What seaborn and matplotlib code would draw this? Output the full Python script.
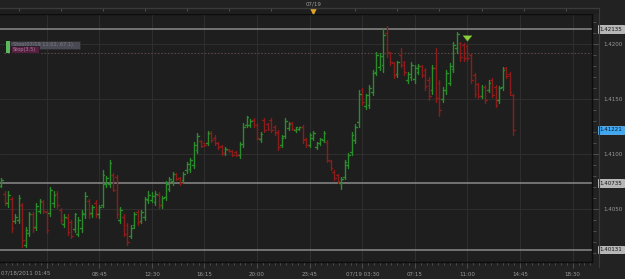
import numpy as np
import pandas as pd
import matplotlib
matplotlib.use("Agg")
import matplotlib.pyplot as plt
import matplotlib.dates as mdates
import matplotlib.transforms as mtransforms
from matplotlib.lines import Line2D
from matplotlib.patches import Rectangle
from matplotlib.ticker import FixedLocator, MultipleLocator, FormatStrFormatter
import seaborn as sns

# 15 minute EUR bars, 07/18/2011 01:45 onwards
START = "2011-07-18 01:45"

opens = [
    1.4071, 1.4064, 1.4055, 1.4059, 1.4039, 1.4040, 1.4054, 1.4017, 1.4028, 1.4045,
    1.4034, 1.4048, 1.4056, 1.4047, 1.4046, 1.4055, 1.4064, 1.4049, 1.4036, 1.4042,
    1.4038, 1.4032, 1.4027, 1.4033, 1.4045, 1.4057, 1.4046, 1.4055, 1.4045, 1.4054,
    1.4073, 1.4073, 1.4081, 1.4079, 1.4040, 1.4043, 1.4035, 1.4025, 1.4035, 1.4047,
    1.4039, 1.4043, 1.4058, 1.4058, 1.4056, 1.4063, 1.4054, 1.4061, 1.4068, 1.4075,
    1.4082, 1.4078, 1.4076, 1.4085, 1.4086, 1.4090, 1.4104, 1.4112, 1.4110, 1.4110,
    1.4119, 1.4115, 1.4110, 1.4107, 1.4101, 1.4104, 1.4103, 1.4102, 1.4099, 1.4109,
    1.4126, 1.4126, 1.4131, 1.4126, 1.4114, 1.4131, 1.4127, 1.4131, 1.4125, 1.4120,
    1.4108, 1.4116, 1.4124, 1.4128, 1.4122, 1.4123, 1.4125, 1.4114, 1.4108, 1.4115,
    1.4106, 1.4110, 1.4113, 1.4111, 1.4094, 1.4084, 1.4081, 1.4074, 1.4079, 1.4090,
    1.4102, 1.4113, 1.4129, 1.4158, 1.4144, 1.4145, 1.4156, 1.4175, 1.4179, 1.4181,
    1.4210, 1.4192, 1.4183, 1.4173, 1.4190, 1.4184, 1.4167, 1.4170, 1.4168, 1.4175,
    1.4180, 1.4176, 1.4167, 1.4158, 1.4178, 1.4165, 1.4150, 1.4158, 1.4165, 1.4177,
    1.4196, 1.4201, 1.4199, 1.4198, 1.4190, 1.4172, 1.4164, 1.4153, 1.4161, 1.4158,
    1.4167, 1.4161, 1.4149, 1.4161, 1.4178, 1.4173, 1.4154,
]
highs = [
    1.4078, 1.4066, 1.4066, 1.4061, 1.4045, 1.4063, 1.4055, 1.4034, 1.4047, 1.4047,
    1.4055, 1.4059, 1.4058, 1.4049, 1.4070, 1.4066, 1.4066, 1.4051, 1.4045, 1.4045,
    1.4040, 1.4046, 1.4043, 1.4049, 1.4065, 1.4059, 1.4054, 1.4058, 1.4054, 1.4085,
    1.4080, 1.4095, 1.4083, 1.4081, 1.4052, 1.4045, 1.4037, 1.4035, 1.4047, 1.4049,
    1.4049, 1.4061, 1.4066, 1.4065, 1.4066, 1.4065, 1.4062, 1.4075, 1.4079, 1.4084,
    1.4083, 1.4079, 1.4084, 1.4093, 1.4096, 1.4111, 1.4119, 1.4113, 1.4111, 1.4121,
    1.4121, 1.4117, 1.4111, 1.4108, 1.4106, 1.4105, 1.4104, 1.4103, 1.4111, 1.4128,
    1.4135, 1.4132, 1.4133, 1.4128, 1.4120, 1.4133, 1.4128, 1.4133, 1.4126, 1.4122,
    1.4117, 1.4133, 1.4129, 1.4129, 1.4125, 1.4125, 1.4126, 1.4115, 1.4119, 1.4121,
    1.4111, 1.4115, 1.4121, 1.4113, 1.4095, 1.4085, 1.4082, 1.4079, 1.4095, 1.4101,
    1.4120, 1.4127, 1.4158, 1.4160, 1.4155, 1.4163, 1.4176, 1.4193, 1.4192, 1.4215,
    1.4216, 1.4193, 1.4184, 1.4185, 1.4196, 1.4185, 1.4175, 1.4184, 1.4181, 1.4182,
    1.4181, 1.4178, 1.4170, 1.4181, 1.4196, 1.4167, 1.4161, 1.4176, 1.4183, 1.4202,
    1.4211, 1.4202, 1.4201, 1.4199, 1.4192, 1.4174, 1.4165, 1.4163, 1.4163, 1.4167,
    1.4169, 1.4163, 1.4162, 1.4179, 1.4179, 1.4175, 1.4155,
]
lows = [
    1.4070, 1.4054, 1.4052, 1.4029, 1.4037, 1.4037, 1.4015, 1.4015, 1.4025, 1.4029,
    1.4031, 1.4046, 1.4046, 1.4028, 1.4044, 1.4052, 1.4051, 1.4037, 1.4034, 1.4026,
    1.4024, 1.4029, 1.4025, 1.4029, 1.4042, 1.4042, 1.4043, 1.4043, 1.4042, 1.4052,
    1.4070, 1.4070, 1.4066, 1.4042, 1.4037, 1.4025, 1.4017, 1.4024, 1.4033, 1.4035,
    1.4037, 1.4040, 1.4055, 1.4056, 1.4054, 1.4051, 1.4051, 1.4058, 1.4066, 1.4072,
    1.4076, 1.4072, 1.4074, 1.4083, 1.4084, 1.4087, 1.4101, 1.4106, 1.4107, 1.4108,
    1.4111, 1.4108, 1.4105, 1.4099, 1.4099, 1.4102, 1.4098, 1.4098, 1.4096, 1.4106,
    1.4125, 1.4125, 1.4125, 1.4113, 1.4111, 1.4120, 1.4122, 1.4120, 1.4117, 1.4104,
    1.4106, 1.4115, 1.4122, 1.4122, 1.4120, 1.4122, 1.4110, 1.4106, 1.4106, 1.4113,
    1.4105, 1.4108, 1.4111, 1.4093, 1.4085, 1.4076, 1.4074, 1.4068, 1.4077, 1.4087,
    1.4099, 1.4110, 1.4125, 1.4145, 1.4141, 1.4142, 1.4154, 1.4172, 1.4176, 1.4175,
    1.4188, 1.4181, 1.4169, 1.4170, 1.4179, 1.4172, 1.4165, 1.4167, 1.4165, 1.4173,
    1.4170, 1.4158, 1.4149, 1.4155, 1.4147, 1.4135, 1.4147, 1.4155, 1.4163, 1.4175,
    1.4192, 1.4185, 1.4185, 1.4185, 1.4165, 1.4152, 1.4151, 1.4151, 1.4146, 1.4156,
    1.4152, 1.4143, 1.4146, 1.4158, 1.4169, 1.4154, 1.4117,
]
closes = [
    1.4076, 1.4056, 1.4063, 1.4033, 1.4043, 1.4060, 1.4022, 1.4031, 1.4045, 1.4033,
    1.4053, 1.4057, 1.4048, 1.4031, 1.4067, 1.4063, 1.4054, 1.4040, 1.4043, 1.4029,
    1.4025, 1.4045, 1.4040, 1.4046, 1.4062, 1.4045, 1.4052, 1.4046, 1.4052, 1.4081,
    1.4078, 1.4092, 1.4067, 1.4045, 1.4049, 1.4027, 1.4020, 1.4033, 1.4045, 1.4038,
    1.4047, 1.4059, 1.4063, 1.4062, 1.4064, 1.4054, 1.4060, 1.4073, 1.4077, 1.4082,
    1.4077, 1.4074, 1.4082, 1.4091, 1.4095, 1.4108, 1.4116, 1.4107, 1.4108, 1.4119,
    1.4113, 1.4110, 1.4106, 1.4101, 1.4105, 1.4103, 1.4099, 1.4099, 1.4109, 1.4125,
    1.4134, 1.4130, 1.4126, 1.4115, 1.4118, 1.4122, 1.4123, 1.4122, 1.4119, 1.4106,
    1.4115, 1.4130, 1.4127, 1.4123, 1.4125, 1.4125, 1.4113, 1.4108, 1.4117, 1.4119,
    1.4110, 1.4114, 1.4119, 1.4095, 1.4087, 1.4078, 1.4075, 1.4077, 1.4093, 1.4099,
    1.4117, 1.4125, 1.4155, 1.4147, 1.4154, 1.4160, 1.4174, 1.4190, 1.4189, 1.4208,
    1.4193, 1.4184, 1.4172, 1.4184, 1.4181, 1.4175, 1.4173, 1.4181, 1.4178, 1.4180,
    1.4172, 1.4162, 1.4153, 1.4178, 1.4151, 1.4140, 1.4158, 1.4174, 1.4180, 1.4199,
    1.4209, 1.4188, 1.4187, 1.4187, 1.4167, 1.4155, 1.4153, 1.4161, 1.4149, 1.4165,
    1.4154, 1.4145, 1.4160, 1.4176, 1.4171, 1.4156, 1.41221,
]

# horizontal levels drawn across the chart, with their price boxes
levels = [1.42135, 1.40735, 1.40131]
stop_level = 1.41915
signal_bar = 133          # bar with the green down arrow
signal_price = 1.4200

grid_start = "2011-07-18 05:00"
grid_labels = ["", "08:45", "12:30", "16:15", "20:00", "23:45",
               "07/19 03:30", "07:15", "11:00", "14:45", "18:30"]
first_label = "07/18/2011 01:45"
day_start = "2011-07-19 00:00"
day_label = "07/19"
y_ticks = [1.4050, 1.4100, 1.4150, 1.4200]
legend_text = "Stop(07/19 11:02, 67.1)"
stop_text = "Stop(3.5)"

BG = "#1e1e1e"
FIG_BG = "#222222"
GRID = "#2e2e2e"
UP = "#2a8c2a"
DOWN = "#8c1b1b"
TEXT = "#9a9a9a"
TICK = "#555555"

sns.set_theme(style="dark", rc={"axes.facecolor": BG, "figure.facecolor": FIG_BG})
plt.rcParams["font.family"] = ["DejaVu Sans"]

n = len(opens)
times = pd.date_range(START, periods=n, freq="15min")
xs = mdates.date2num(times)
bar = 15 / 1440.0
direction = np.where(np.array(closes) >= np.array(opens), "up", "down")

wicks = pd.DataFrame({
    "x": np.repeat(xs, 2),
    "price": np.column_stack([lows, highs]).ravel(),
    "bar": np.repeat(np.arange(n), 2),
    "dir": np.repeat(direction, 2),
})
half = 0.5 * bar
ticks = pd.DataFrame({
    "x": np.column_stack([xs - half, xs, xs, xs + half]).ravel(),
    "price": np.column_stack([opens, opens, closes, closes]).ravel(),
    "seg": np.repeat(np.arange(2 * n), 2),
    "dir": np.repeat(direction, 4),
})

fig = plt.figure(figsize=(6.25, 2.79), dpi=100)
ax = fig.add_axes([0, 17 / 279, 592 / 625, 248 / 279])

x_left = xs[0] - 0.285 * bar
x_right = xs[0] + 168.5 * bar
y_bottom, y_top = 1.40018, 1.42273

# levels first so the bars sit on top
for lv in levels:
    ax.axhline(lv, color="#8a8a8a", lw=1.1, zorder=1)
ax.plot([xs[0] + 0.8 * bar, x_right], [stop_level, stop_level], color="#5a4646",
        lw=0.8, ls=(0, (1.5, 1.5)), zorder=1)

pal = {"up": UP, "down": DOWN}
sns.lineplot(data=wicks, x="x", y="price", units="bar", hue="dir", estimator=None,
             palette=pal, lw=1.0, legend=False, sort=False, ax=ax, zorder=3)
sns.lineplot(data=ticks, x="x", y="price", units="seg", hue="dir", estimator=None,
             palette=pal, lw=1.0, legend=False, sort=False, ax=ax, zorder=3)

ax.set_xlim(x_left, x_right)
ax.set_ylim(y_bottom, y_top)
ax.set_xlabel("")
ax.set_ylabel("")

# time axis
grid_x = mdates.date2num(pd.date_range(grid_start, periods=len(grid_labels), freq="225min"))
step25 = 25 / 1440.0
ax.xaxis.set_major_locator(FixedLocator(grid_x))
ax.set_xticklabels(grid_labels)
ax.xaxis.set_minor_locator(FixedLocator(np.arange(grid_x[0] - 8 * step25, x_right, step25)))
ax.tick_params(axis="x", which="major", bottom=True, length=4, width=0.6, color=TICK,
               pad=3, labelsize=4, labelcolor=TEXT)
ax.tick_params(axis="x", which="minor", bottom=True, length=2.5, width=0.6, color=TICK)
ax.text(0.002, -0.045, first_label, transform=ax.transAxes, ha="left", va="center",
        fontsize=4, color=TEXT)

# price axis on the right
ax.yaxis.tick_right()
ax.yaxis.set_major_locator(FixedLocator(y_ticks))
ax.yaxis.set_major_formatter(FormatStrFormatter("%.4f"))
ax.yaxis.set_minor_locator(MultipleLocator(0.001))
ax.tick_params(axis="y", which="major", right=True, left=False, length=5, width=0.6,
               color=TICK, pad=3, labelsize=4, labelcolor=TEXT)
ax.tick_params(axis="y", which="minor", right=True, left=False, length=3, width=0.6, color=TICK)

ax.grid(True, which="major", color=GRID, lw=0.8)
ax.spines["left"].set_visible(False)
for s in ["top", "right", "bottom"]:
    ax.spines[s].set_color("#0c0c0c")
    ax.spines[s].set_linewidth(1.0)

# price boxes on the axis
blend = mtransforms.blended_transform_factory(ax.transAxes, ax.transData)
for lv in levels:
    ax.text(1.0125, lv, f"{lv:.5f}", transform=blend, ha="left", va="center", fontsize=4,
            color="#151515", clip_on=False, zorder=6,
            bbox=dict(boxstyle="square,pad=0.25", fc="#b6b6b6", ec="#dadada", lw=0.5))
last = closes[-1]
ax.text(1.0125, last, f"{last:.5f}", transform=blend, ha="left", va="center", fontsize=4,
        color="#0b1a2a", clip_on=False, zorder=6,
        bbox=dict(boxstyle="square,pad=0.25", fc="#3ea8f2", ec="#6cc0ff", lw=0.5))

# signal arrow (block arrow pointing down)
ax.annotate("", xy=(xs[signal_bar], signal_price), xytext=(xs[signal_bar], signal_price + 0.00075),
            arrowprops=dict(arrowstyle="simple,head_width=1.3,head_length=0.8,tail_width=0.6",
                            fc="#8ccf3c", ec="#5f9a20", lw=0.3, mutation_scale=5), zorder=7)

# indicator legend, top left
ax.add_patch(Rectangle((6 / 592, 1 - 39 / 248), 4 / 592, 12 / 248, transform=ax.transAxes,
                       fc="#5cb85c", ec="none", zorder=5))
ax.add_patch(Rectangle((10 / 592, 1 - 35 / 248), 70 / 592, 8 / 248, transform=ax.transAxes,
                       fc="#4a4a54", ec="#2a2a2a", lw=0.5, zorder=5))
ax.text(13 / 592, 1 - 30.5 / 248, legend_text, transform=ax.transAxes, ha="left", va="center",
        fontsize=3.6, color="#7a7a86", zorder=6)
ax.add_patch(Rectangle((11 / 592, 1 - 39 / 248), 28 / 592, 7 / 248, transform=ax.transAxes,
                       fc="#54203f", ec="#1a1a1a", lw=0.5, zorder=6))
ax.text(13 / 592, 1 - 35.5 / 248, stop_text, transform=ax.transAxes, ha="left", va="center",
        fontsize=3.6, color="#b47ca2", zorder=7)

# thin time strip on top
strip = fig.add_axes([0, 1 - 14 / 279, 599 / 625, 6 / 279])
strip.set_facecolor(BG)
strip.set_xlim(x_left, x_left + (599 / 592) * (x_right - x_left))
strip.set_ylim(0, 1)
step3h = 3 / 24.0
day_x = mdates.date2num(pd.Timestamp(day_start))
strip_ticks = np.arange(day_x - 8 * step3h, x_right, step3h)
strip_ticks = strip_ticks[strip_ticks > x_left]
strip.xaxis.set_major_locator(FixedLocator(strip_ticks))
strip.tick_params(axis="x", top=True, bottom=False, direction="in", length=2, width=0.6,
                  color=TICK, labeltop=False, labelbottom=False)
strip.set_yticks([])
strip.grid(False)
for s in ["left", "bottom", "right"]:
    strip.spines[s].set_visible(False)
strip.spines["top"].set_color("#3a3a3a")
strip.spines["top"].set_linewidth(1.0)
strip.plot([day_x], [0.5], marker="v", ms=3.5, color="#e0a526",
           transform=strip.get_xaxis_transform(), clip_on=False)
strip.text(day_x, 1.75, day_label, transform=strip.get_xaxis_transform(), ha="center",
           va="center", fontsize=4, color=TEXT)

# outer frame line on the right
fig.add_artist(Line2D([599 / 625, 599 / 625], [1 - 8 / 279, 1 - 267 / 279],
                      color="#3a3a3a", lw=0.8))

fig.savefig("out.png", dpi=100, facecolor=FIG_BG)
